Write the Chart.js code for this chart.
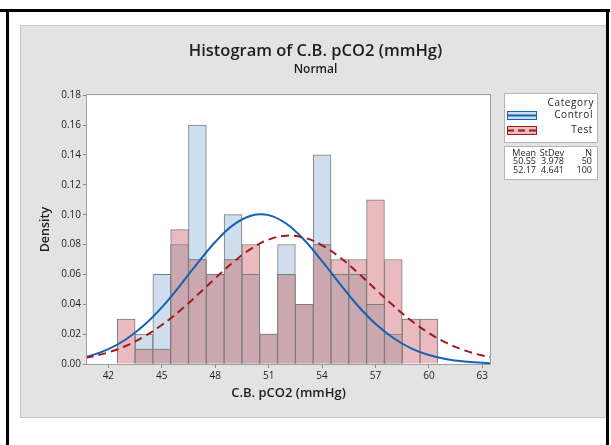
<!DOCTYPE html>
<html>
<head>
<meta charset="utf-8">
<script src="https://cdn.jsdelivr.net/npm/chart.js@4/dist/chart.umd.min.js"></script>
<style>
html,body{margin:0;padding:0;background:#fff;}
#wrap{width:611px;height:445px;position:relative;}
</style>
</head>
<body>
<div id="wrap"><canvas id="c" width="611" height="445"></canvas></div>
<script>
// ---- data ----
const binCenters = [43,44,45,46,47,48,49,50,51,52,53,54,55,56,57,58,59,60];
const controlDensity = [0,0.02,0.06,0.08,0.16,0.06,0.10,0.06,0.02,0.08,0.04,0.14,0.06,0.06,0.04,0.02,0,0];
const testDensity = [0.03,0.01,0.01,0.09,0.07,0.06,0.07,0.08,0.02,0.06,0.04,0.08,0.07,0.07,0.11,0.07,0.03,0.03];
const curveX = [40,41,42,43,44,45,46,47,48,49,50,51,52,53,54,55,56,57,58,59,60,61,62,63,64];
const controlCurve = [0.0030,0.0056,0.0100,0.0166,0.0259,0.0379,0.0522,0.0674,0.0817,0.0930,0.0993,0.0997,0.0939,0.0830,0.0689,0.0537,0.0392,0.0269,0.0174,0.0105,0.0060,0.0032,0.0016,0.0008,0.0003];
const testCurve = [0.0028,0.0048,0.0078,0.0122,0.0183,0.0261,0.0355,0.0462,0.0574,0.0681,0.0771,0.0833,0.0859,0.0846,0.0795,0.0714,0.0612,0.0500,0.0391,0.0291,0.0207,0.0141,0.0091,0.0057,0.0033];
const xTicks = [42,45,48,51,54,57,60,63];
const yTicks = [0,0.02,0.04,0.06,0.08,0.10,0.12,0.14,0.16,0.18];
const seriesNames = ['Control','Test'];
const statHeader = ['Mean','StDev','N'];
const statRows = [['50.55','3.978','50'],['52.17','4.641','100']];
const titleText = 'Histogram of C.B. pCO2 (mmHg)';
const subtitleText = 'Normal';
const xTitle = 'C.B. pCO2 (mmHg)';
const yTitle = 'Density';
const legendTitle = 'Category';

// ---- styles ----
const FONT = "'Open Sans', 'Noto Sans', sans-serif";
const TXT = '#1e1e1e';
const BLUE_FILL = 'rgb(207,222,238)';
const PINK_FILL = 'rgb(233,187,190)';
const MAUVE_FILL = 'rgb(203,167,175)';
const BAR_BORDER = '#7d7d7d';
const BLUE_LINE = '#1462b4';
const RED_LINE = '#a01a1a';

const toPts = (xs, ys) => xs.map((x,i)=>({x:x, y: ys[i] ? ys[i] : null}));
const overlap = binCenters.map((x,i)=>({x:x, y: Math.min(controlDensity[i], testDensity[i]) || null}));

const decor = {
  id:'decor',
  beforeDraw(chart){
    const ctx = chart.ctx;
    ctx.save();
    ctx.fillStyle = '#fff';
    ctx.fillRect(0,0,611,445);
    ctx.fillStyle = '#e3e3e3';
    ctx.fillRect(20,25,586,393);
    ctx.strokeStyle = '#c6c6c6';
    ctx.lineWidth = 1;
    ctx.strokeRect(20.5,25.5,586,392);
    ctx.fillStyle = '#000';
    ctx.fillRect(0,9,610,3);
    ctx.fillRect(6,9,3,436);
    ctx.fillRect(606,9,3,436);
    const a = chart.chartArea;
    ctx.fillStyle = '#fff';
    ctx.fillRect(a.left,a.top,a.right-a.left,a.bottom-a.top);
    ctx.restore();
  },
  afterDraw(chart){
    const ctx = chart.ctx;
    const a = chart.chartArea;
    ctx.save();
    ctx.strokeStyle = '#a0a0a0';
    ctx.lineWidth = 1;
    ctx.strokeRect(Math.round(a.left)-0.5, Math.round(a.top)-0.5, Math.round(a.right-a.left)+1, Math.round(a.bottom-a.top)+1);
    // legend box
    ctx.fillStyle = '#fff';
    ctx.strokeStyle = '#b4b4b4';
    ctx.fillRect(504,93,94,50);
    ctx.strokeRect(504.5,93.5,93,49);
    ctx.fillRect(504,146,94,34);
    ctx.strokeRect(504.5,146.5,93,33);
    ctx.fillStyle = TXT;
    ctx.font = "10px " + FONT;
    ctx.letterSpacing = '0.6px';
    ctx.textAlign = 'right';
    ctx.textBaseline = 'middle';
    ctx.fillText(legendTitle, 594, 103);
    ctx.fillText(seriesNames[0], 593, 115);
    ctx.fillText(seriesNames[1], 593, 130);
    ctx.letterSpacing = '0px';
    // swatches
    ctx.fillStyle = BLUE_FILL; ctx.fillRect(507,111,30,9);
    ctx.strokeStyle = BLUE_LINE; ctx.lineWidth = 1; ctx.strokeRect(507.5,111.5,29,8);
    ctx.lineWidth = 2; ctx.beginPath(); ctx.moveTo(507,115.5); ctx.lineTo(537,115.5); ctx.stroke();
    ctx.fillStyle = PINK_FILL; ctx.fillRect(507,126,30,9);
    ctx.strokeStyle = RED_LINE; ctx.lineWidth = 1; ctx.strokeRect(507.5,126.5,29,8);
    ctx.lineWidth = 2; ctx.setLineDash([7,4]); ctx.beginPath(); ctx.moveTo(507,130.5); ctx.lineTo(537,130.5); ctx.stroke();
    ctx.setLineDash([]);
    // stats
    ctx.fillStyle = TXT;
    ctx.font = "9px " + FONT;
    const cols = [536, 564, 592];
    const rowsY = [153, 161.5, 170];
    statHeader.forEach((t,j)=>ctx.fillText(t, cols[j], rowsY[0]));
    statRows.forEach((r,i)=>r.forEach((t,j)=>ctx.fillText(t, cols[j], rowsY[i+1])));
    ctx.restore();
  }
};

new Chart(document.getElementById('c'), {
  type: 'bar',
  data: {
    datasets: [
      { type:'line', label: seriesNames[0]+' fit', data: toPts(curveX, controlCurve), borderColor: BLUE_LINE, borderWidth: 2, pointRadius: 0, tension: 0.4, fill:false, order: 1, clip: 0 },
      { type:'line', label: seriesNames[1]+' fit', data: toPts(curveX, testCurve), borderColor: RED_LINE, borderWidth: 2, borderDash:[8,5], pointRadius: 0, tension: 0.4, fill:false, order: 0, clip: 0 },
      { label: seriesNames[0], data: toPts(binCenters, controlDensity), backgroundColor: BLUE_FILL, borderColor: BAR_BORDER, borderWidth: 1, order: 4 },
      { label: seriesNames[1], data: toPts(binCenters, testDensity), backgroundColor: PINK_FILL, borderColor: BAR_BORDER, borderWidth: 1, order: 3 },
      { label: 'overlap', data: overlap, backgroundColor: MAUVE_FILL, borderColor: BAR_BORDER, borderWidth: 1, order: 2 }
    ]
  },
  options: {
    responsive: false,
    animation: false,
    devicePixelRatio: 1,
    grouped: false,
    barPercentage: 1,
    categoryPercentage: 1,
    layout: { padding: { left: 20, right: 0, top: 25, bottom: 27 } },
    plugins: {
      legend: { display: false },
      tooltip: { enabled: false },
      title: { display: true, text: titleText, color: TXT, font: { family: FONT, size: 16.5, weight: '600' }, padding: { top: 16, bottom: 0 } },
      subtitle: { display: true, text: subtitleText, color: TXT, font: { family: FONT, size: 12, weight: '600' }, padding: { top: 2, bottom: 18 } }
    },
    scales: {
      x: {
        type: 'linear', min: 40.8, max: 63.43, offset: false,
        afterBuildTicks(s){ s.ticks = xTicks.map(v=>({value:v})); },
        afterFit(s){ s.height = 54; },
        grid: { display: true, drawOnChartArea: false, drawTicks: true, tickLength: 4, color: '#8c8c8c', offset: false },
        border: { display: false },
        ticks: { color: TXT, font: { family: FONT, size: 10 }, padding: 2, maxRotation: 0, callback: v => String(v) },
        title: { display: true, text: xTitle, color: TXT, font: { family: FONT, size: 13, weight: '600' }, padding: { top: 0, bottom: 17 } }
      },
      y: {
        type: 'linear', min: 0, max: 0.18, position: 'left',
        afterBuildTicks(s){ s.ticks = yTicks.map(v=>({value:v})); },
        afterFit(s){ s.width = 67; },
        grid: { display: true, drawOnChartArea: false, drawTicks: true, tickLength: 4, color: '#8c8c8c' },
        border: { display: false },
        ticks: { color: TXT, font: { family: FONT, size: 10 }, padding: 2, callback: v => v.toFixed(2) },
        title: { display: true, text: yTitle, color: TXT, font: { family: FONT, size: 12.5, weight: '600' }, padding: { top: 18, bottom: 0 } }
      },
      yRight: {
        type: 'linear', position: 'right', min: 0, max: 1, display: true,
        afterFit(s){ s.width = 121; },
        grid: { display: false }, border: { display: false },
        ticks: { display: false }
      }
    }
  },
  plugins: [decor]
});
</script>
</body>
</html>
